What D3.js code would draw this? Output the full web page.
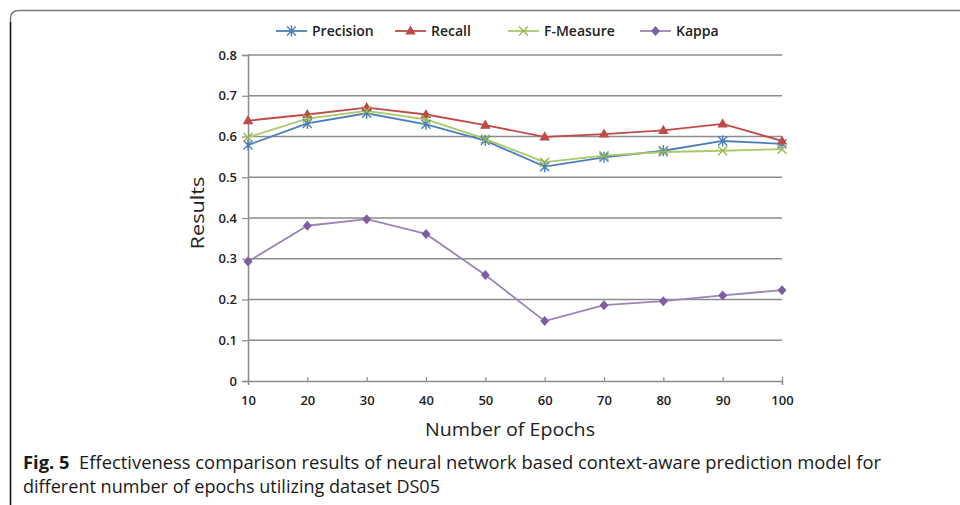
<!DOCTYPE html>
<html><head><meta charset="utf-8">
<script src="https://cdn.jsdelivr.net/npm/d3@7"></script>
<style>body{margin:0;background:#fff;}svg{display:block;}</style>
</head><body>
<svg id="c" width="960" height="505"></svg>
<script>
const epochs = [10,20,30,40,50,60,70,80,90,100];
const precision = [0.579,0.632,0.657,0.630,0.590,0.526,0.549,0.565,0.589,0.582];
const recall = [0.639,0.654,0.671,0.654,0.628,0.599,0.606,0.615,0.631,0.589];
const fmeasure = [0.598,0.644,0.663,0.642,0.594,0.537,0.553,0.562,0.565,0.569];
const kappa = [0.293,0.381,0.397,0.361,0.260,0.147,0.186,0.196,0.210,0.223];
const yTicks = [0,0.1,0.2,0.3,0.4,0.5,0.6,0.7,0.8];
const seriesNames = ["Precision","Recall","F-Measure","Kappa"];

const svg = d3.select("#c");
const font = "'Open Sans', 'Noto Sans', sans-serif";

// frame
svg.append("path").attr("d","M10.5,505 L10.5,19 Q10.5,10.5 19,10.5 L960,10.5")
  .attr("fill","none").attr("stroke","#777").attr("stroke-width",1.5);
svg.append("path").attr("d","M10.5,505 L10.5,22").attr("stroke","#111").attr("stroke-width",1.3);

const x = d3.scaleLinear().domain([10,100]).range([248,782]);
const y = d3.scaleLinear().domain([0,0.8]).range([381,55]);

const gridColor = "#8c8c8c";
svg.append("g").selectAll("line").data(yTicks.filter(d=>d>0)).join("line")
  .attr("x1",x(10)).attr("x2",x(100)).attr("y1",d=>y(d)).attr("y2",d=>y(d))
  .attr("stroke",gridColor).attr("stroke-width",1.3);

const yAxis = svg.append("g").attr("transform",`translate(${x(10)},0)`)
  .call(d3.axisLeft(y).tickValues(yTicks).tickFormat(d=>d===0?"0":d3.format(".1f")(d)).tickSize(6).tickPadding(5));
const xAxis = svg.append("g").attr("transform",`translate(0,${y(0)})`)
  .call(d3.axisBottom(x).tickValues(epochs).tickSize(4).tickPadding(11));
[yAxis,xAxis].forEach(a=>{
  a.select(".domain").attr("stroke",gridColor).attr("stroke-width",1.5);
  a.selectAll(".tick line").attr("stroke",gridColor).attr("stroke-width",1.2);
  a.selectAll("text").attr("font-family",font).attr("font-size",13).attr("fill","#222").attr("font-weight",600);
});
xAxis.selectAll(".tick line").attr("y2",-4).attr("y1",0);

// axis titles
svg.append("text").attr("transform","translate(204,213) rotate(-90)").attr("text-anchor","middle")
  .attr("font-family",font).attr("font-size",19).attr("fill","#222")
  .attr("textLength",73).attr("lengthAdjust","spacingAndGlyphs").text("Results");
svg.append("text").attr("x",510).attr("y",436).attr("text-anchor","middle")
  .attr("font-family",font).attr("font-size",19).attr("fill","#222")
  .attr("textLength",170).attr("lengthAdjust","spacingAndGlyphs").text("Number of Epochs");

const series = [
  {name:seriesNames[0], vals:precision, color:"#4a7ebb", line:"#4a7ebb", marker:"star"},
  {name:seriesNames[1], vals:recall, color:"#be4b48", line:"#be4b48", marker:"tri"},
  {name:seriesNames[2], vals:fmeasure, color:"#98b954", line:"#a9c96a", marker:"x"},
  {name:seriesNames[3], vals:kappa, color:"#7d5fa0", line:"#9a85b8", marker:"diamond"}
];

function drawMarker(g, type, color, cx, cy){
  if(type==="star"){
    const s=4.5;
    g.append("path").attr("d",`M${cx-s},${cy-s}L${cx+s},${cy+s}M${cx-s},${cy+s}L${cx+s},${cy-s}M${cx},${cy-s-1}L${cx},${cy+s+1}`)
      .attr("stroke",color).attr("stroke-width",1.4).attr("fill","none");
  } else if(type==="x"){
    const s=4.5;
    g.append("path").attr("d",`M${cx-s},${cy-s}L${cx+s},${cy+s}M${cx-s},${cy+s}L${cx+s},${cy-s}`)
      .attr("stroke",color).attr("stroke-width",1.4).attr("fill","none");
  } else if(type==="tri"){
    g.append("path").attr("d",d3.symbol(d3.symbolTriangle,48)()).attr("transform",`translate(${cx},${cy+0.5})`)
      .attr("fill",color);
  } else {
    g.append("path").attr("d",`M${cx},${cy-5}L${cx+4.5},${cy}L${cx},${cy+5}L${cx-4.5},${cy}Z`).attr("fill",color);
  }
}

const line = d3.line().x((d,i)=>x(epochs[i])).y(d=>y(d));
series.forEach(s=>{
  svg.append("path").datum(s.vals).attr("d",line).attr("fill","none")
    .attr("stroke",s.line).attr("stroke-width",1.8);
});
series.forEach(s=>{
  const g = svg.append("g");
  s.vals.forEach((v,i)=>drawMarker(g,s.marker,s.color,x(epochs[i]),y(v)));
});

// legend
const legX = [276,395,508,640];
series.forEach((s,i)=>{
  const g = svg.append("g");
  g.append("line").attr("x1",legX[i]).attr("x2",legX[i]+31).attr("y1",31).attr("y2",31)
    .attr("stroke",s.line).attr("stroke-width",1.8);
  drawMarker(g,s.marker,s.color,legX[i]+15.5,31);
  g.append("text").attr("x",legX[i]+36).attr("y",36).attr("font-family",font).attr("font-size",14)
    .attr("font-weight",600).attr("fill","#222").text(s.name);
});

// caption
const cap = svg.append("text").attr("x",23).attr("y",469).attr("font-family",font).attr("font-size",18).attr("fill","#1a1a1a")
  .attr("textLength",858).attr("lengthAdjust","spacingAndGlyphs");
cap.append("tspan").attr("font-weight",700).text("Fig. 5");
cap.append("tspan").text("\u00a0 Effectiveness comparison results of neural network based context-aware prediction model for");
svg.append("text").attr("x",23).attr("y",493).attr("font-family",font).attr("font-size",18).attr("fill","#1a1a1a")
  .attr("textLength",417).attr("lengthAdjust","spacingAndGlyphs")
  .text("different number of epochs utilizing dataset DS05");
</script>
</body></html>
